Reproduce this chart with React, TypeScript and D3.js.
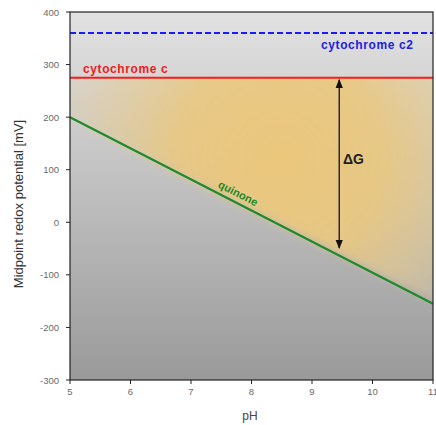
import React from "react";
import * as d3 from "d3";

const xTicks = [5, 6, 7, 8, 9, 10, 11];
const yTicks = [-300, -200, -100, 0, 100, 200, 300, 400];
const xDomain = [5, 11];
const yDomain = [-300, 400];
const cytC2 = 360;
const cytC = 275;
const quinonePH = [5, 11];
const quinoneE = [200, -155];
const arrowPH = 9.45;
const arrowBottom = -49;

export default function App() {
  const W = 436, H = 425;
  const m = { left: 70, right: 3, top: 12, bottom: 45 };
  const x = d3.scaleLinear().domain(xDomain).range([m.left, W - m.right]);
  const y = d3.scaleLinear().domain(yDomain).range([H - m.bottom, m.top]);
  const pts: [number, number][] = quinonePH.map((p, i) => [p, quinoneE[i]]);
  const line = d3.line<[number, number]>().x(d => x(d[0])).y(d => y(d[1]));
  const region: [number, number][] = [
    [x(5) - 10, y(cytC) - 10], [x(11) + 10, y(cytC) - 10], [x(11) + 10, y(quinoneE[1]) + 2], [x(5) - 10, y(quinoneE[0]) - 3],
  ];
  const regionPath = "M" + region.map(p => p.join(",")).join("L") + "Z";
  const x0 = x(xDomain[0]), x1 = x(xDomain[1]), y0 = y(yDomain[1]), y1 = y(yDomain[0]);
  const font = "Arial, 'Liberation Sans', sans-serif";
  const ang = Math.atan2(y(quinoneE[1]) - y(quinoneE[0]), x(11) - x(5)) * 180 / Math.PI;
  const qx = x(7.75);
  const qy = y(quinoneE[0] + (quinoneE[1] - quinoneE[0]) * (7.75 - 5) / 6) - 6;
  return (
    <svg width={W} height={H} style={{ position: "absolute", left: 0, top: 0, background: "#fff" }}>
      <defs>
        <linearGradient id="bg" x1="0" y1="0" x2="0" y2="1">
          <stop offset="0" stopColor="#e2e2e2" />
          <stop offset="1" stopColor="#9a9a9a" />
        </linearGradient>
        <radialGradient id="glow" gradientUnits="userSpaceOnUse" cx={280} cy={160} r={230}>
          <stop offset="0" stopColor="#ebc77c" stopOpacity="1" />
          <stop offset="0.45" stopColor="#eac87f" stopOpacity="0.9" />
          <stop offset="0.8" stopColor="#e6cc95" stopOpacity="0.5" />
          <stop offset="1" stopColor="#e4d0a8" stopOpacity="0.2" />
        </radialGradient>
        <filter id="blur" x="-0.3" y="-0.3" width="1.6" height="1.6">
          <feGaussianBlur stdDeviation="4" />
        </filter>
        <clipPath id="plot">
          <rect x={x0} y={y0} width={x1 - x0} height={y1 - y0} />
        </clipPath>
        <clipPath id="belowC">
          <rect x={x0} y={y(cytC)} width={x1 - x0} height={y1 - y(cytC)} />
        </clipPath>
        <marker id="ah" viewBox="0 0 10 10" refX="9" refY="5" markerWidth="7" markerHeight="9" orient="auto-start-reverse">
          <path d="M0,1 L10,5 L0,9 Z" fill="#111" />
        </marker>
      </defs>
      <rect x={x0} y={y0} width={x1 - x0} height={y1 - y0} fill="url(#bg)" />
      <g clipPath="url(#belowC)">
        <path d={regionPath} fill="url(#glow)" filter="url(#blur)" />
      </g>
      <g clipPath="url(#plot)">
        <line x1={x0} x2={x1} y1={y(cytC2)} y2={y(cytC2)} stroke="#1a1aff" strokeWidth={2} strokeDasharray="6,3" />
        <line x1={x0} x2={x1} y1={y(cytC)} y2={y(cytC)} stroke="#ff1a1a" strokeWidth={2} />
        <path d={line(pts) || ""} stroke="#1f8a2a" strokeWidth={2.2} fill="none" />
      </g>
      <line x1={x(arrowPH)} x2={x(arrowPH)} y1={y(arrowBottom)} y2={y(cytC) + 2}
        stroke="#111" strokeWidth={1.3} markerEnd="url(#ah)" markerStart="url(#ah)" />
      <rect x={x0} y={y0} width={x1 - x0} height={y1 - y0} fill="none" stroke="#222" strokeWidth={1.2} />
      <text x={83} y={73} fill="#ee1c1c" fontFamily={font} fontWeight="bold" fontSize={12} letterSpacing={0.6}>cytochrome c</text>
      <text x={321} y={49} fill="#2222dd" fontFamily={font} fontWeight="bold" fontSize={12} letterSpacing={0.6}>cytochrome c2</text>
      <text x={343} y={164} fill="#222" fontFamily={font} fontWeight="bold" fontSize={14}>ΔG</text>
      <text x={qx} y={qy} fill="#1f8a2a" fontFamily={font} fontWeight="bold" fontSize={11}
        textAnchor="middle" transform={`rotate(${ang},${qx},${qy})`}>quinone</text>
      <g fontFamily={font} fontSize={9.5} fill="#6a6a6a">
        {yTicks.map(t => (
          <g key={t}>
            <line x1={x0 - 4} x2={x0} y1={y(t)} y2={y(t)} stroke="#222" />
            <text x={x0 - 11} y={y(t) + 3.5} textAnchor="end">{t}</text>
          </g>
        ))}
        {xTicks.map(t => (
          <g key={t}>
            <line x1={x(t)} x2={x(t)} y1={y1} y2={y1 + 4} stroke="#222" />
            <text x={x(t)} y={y1 + 15} textAnchor="middle">{t}</text>
          </g>
        ))}
      </g>
      <text x={250} y={420} textAnchor="middle" fontFamily={font} fontSize={12} fill="#444">pH</text>
      <text transform={`translate(23,204) rotate(-90)`} textAnchor="middle"
        fontFamily={font} fontSize={13} fill="#333">Midpoint redox potential [mV]</text>
    </svg>
  );
}
